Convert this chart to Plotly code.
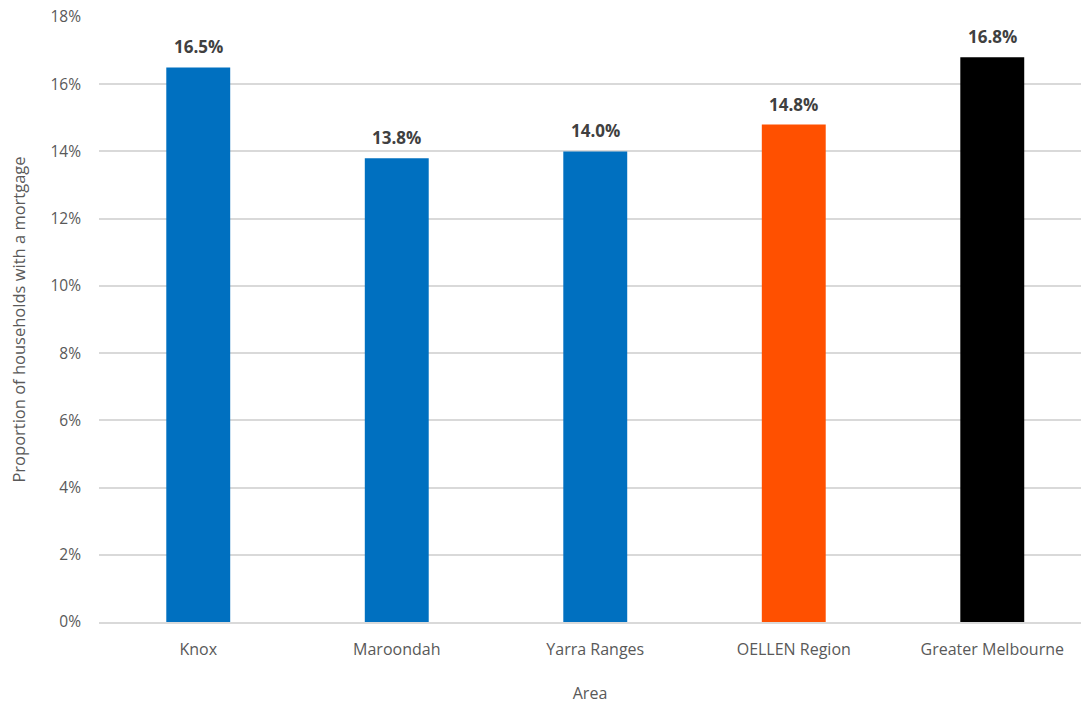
import plotly.graph_objects as go

areas = ["Knox", "Maroondah", "Yarra Ranges", "OELLEN Region", "Greater Melbourne"]
values = [16.5, 13.8, 14.0, 14.8, 16.8]
colors = ["#0070C0", "#0070C0", "#0070C0", "#FF5000", "#000000"]
labels = ["16.5%", "13.8%", "14.0%", "14.8%", "16.8%"]

fig = go.Figure(go.Bar(
    x=areas, y=values, marker_color=colors, marker_line_width=0,
))

for a, v, t in zip(areas, values, labels):
    fig.add_annotation(
        x=a, y=v, text=t, showarrow=False, yanchor="bottom", yshift=7,
        font=dict(family="Open Sans, sans-serif", size=17, color="#404040", weight="bold"),
    )

fig.update_layout(
    width=1081, height=704,
    margin=dict(l=99, r=0, t=17, b=82),
    plot_bgcolor="white", paper_bgcolor="white",
    bargap=0.678, showlegend=False,
    font=dict(family="Open Sans, sans-serif", size=15, color="#595959"),
    xaxis=dict(
        title=dict(text="Area", standoff=34, font=dict(size=16, color="#595959")),
        range=[-0.5, 4.447],
        showline=True, linecolor="#d9d9d9", linewidth=1.5,
        ticks="", ticklabelstandoff=12, tickfont=dict(size=16, color="#595959"),
    ),
    yaxis=dict(
        title=dict(text="Proportion of households with a mortgage", standoff=20,
                   font=dict(size=16.5, color="#595959")),
        range=[0, 18], dtick=2, ticksuffix="%",
        showgrid=True, gridcolor="#d9d9d9", gridwidth=1.5,
        zeroline=False, ticks="", ticklabelstandoff=17,
        tickfont=dict(size=15.5, color="#595959"),
    ),
)

fig.write_html("out.html")
